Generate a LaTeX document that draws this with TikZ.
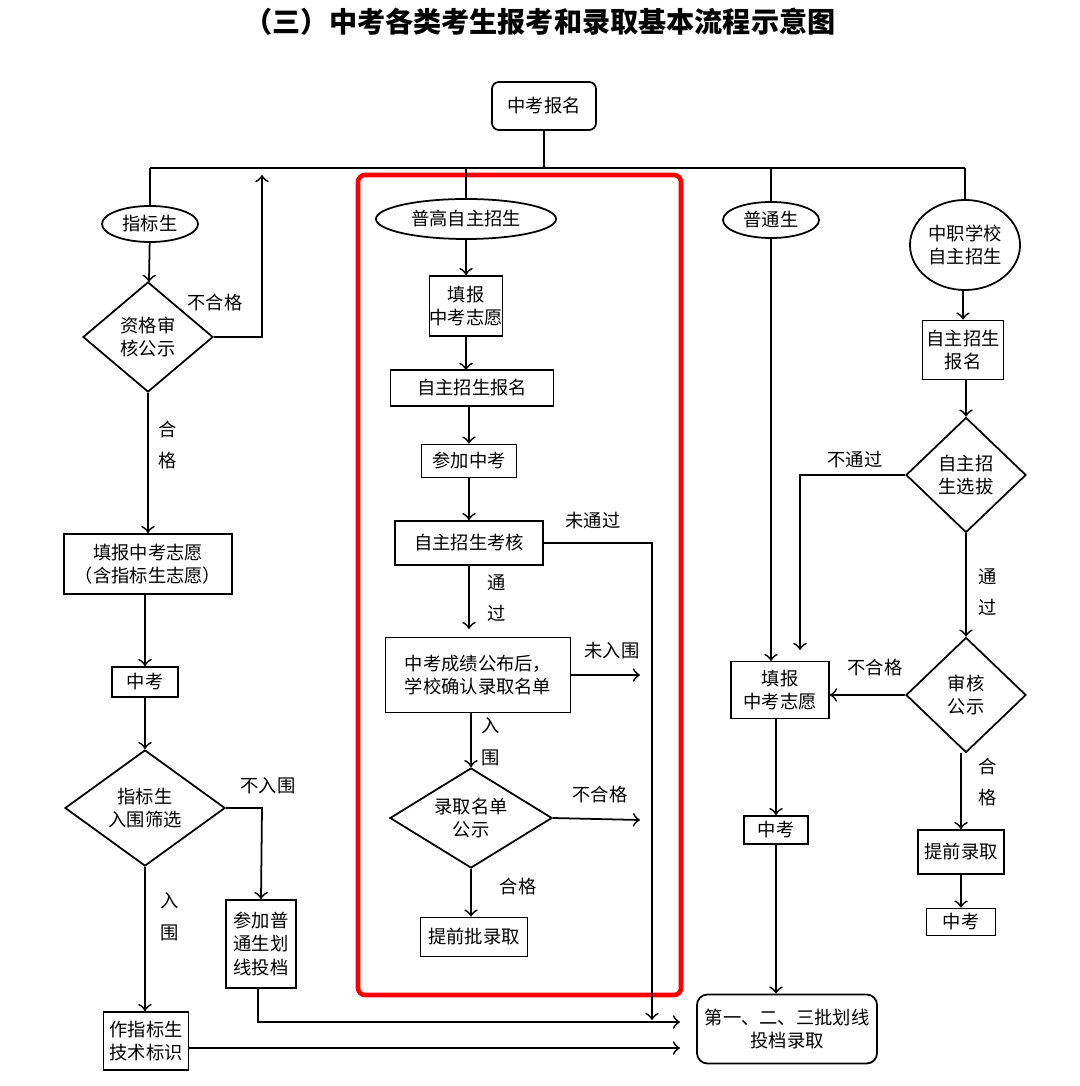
\documentclass[tikz,border=0pt]{standalone}
\usepackage{fontspec}
\setmainfont{Noto Sans CJK SC}
\usepackage{tikz}
\usetikzlibrary{shapes.geometric}

\begin{document}
\begin{tikzpicture}[x=0.01cm,y=-0.01cm,font=\fontsize{5.2}{6.6}\selectfont,
  line width=0.5pt,
  box/.style={draw,align=center,inner sep=0pt,minimum width=#1},
  oval/.style={draw,ellipse,align=center,inner sep=0pt},
  dia/.style={draw,diamond,align=center,inner sep=0pt,aspect=1.3},
  lbl/.style={align=center,inner sep=0pt,font=\fontsize{5.2}{9}\selectfont}]
  \useasboundingbox (0,0) rectangle (1080,1086);

  % Title
  \node[font=\fontsize{8}{9}\bfseries\selectfont] (title) at (540,22) {（三）中考各类考生报考和录取基本流程示意图};

  % Top
  \node[box=1.04cm,minimum height=0.48cm,rounded corners=2pt] (reg) at (544,106) {中考报名};
  \coordinate (top) at (544,168);
  \draw (reg) -- (top);
  \draw (150,168) -- (965,168);

  % Red frame
  \draw[red,line width=1.3pt,rounded corners=2pt] (358,175) rectangle (681,995);

  % Final box
  \node[box=1.8cm,minimum height=0.69cm,rounded corners=3pt] (final) at (787,1029) {第一、二、三批划线\\投档录取};

  % Left column
  \node[oval,minimum width=0.96cm,minimum height=0.36cm] (zbs) at (150,224) {指标生};
  \draw (150,168) -- (zbs);
  \node[dia,minimum width=1.3cm,minimum height=1.1cm] (shgs) at (148,337) {资格审\\核公示};
  \draw[->] (zbs) -- (shgs);
  \coordinate (upl) at (262,337);
  \draw[->] (shgs.east) -- (upl) -- (262,175);
  \node[lbl] (l1) at (215,303) {不合格};
  \node[box=1.68cm,minimum height=0.6cm] (tbzy) at (148,564) {填报中考志愿\\（含指标生志愿）};
  \draw[->] (shgs) -- (tbzy);
  \node[lbl] (l2) at (168,445) {合\\格};
  \node[box=0.66cm,minimum height=0.3cm] (zk1) at (145,682) {中考};
  \draw[->] (tbzy.south -| zk1) -- (zk1);
  \node[dia,minimum width=1.6cm,minimum height=1.16cm] (rwsx) at (145,808) {指标生\\入围筛选};
  \draw[->] (zk1) -- (rwsx);
  \node[box=0.7cm,minimum height=0.88cm] (cjpt) at (261,944) {参加普\\通生划\\线投档};
  \coordinate (c1) at (262,808);
  \draw[->] (rwsx.east) -- (c1) -- (cjpt.north);
  \node[lbl] (l3) at (268,786) {不入围};
  \node[box=0.85cm,minimum height=0.58cm] (jsbs) at (146,1041) {作指标生\\技术标识};
  \draw[->] (rwsx.south) -- (rwsx.south |- jsbs.north);
  \node[lbl] (l4) at (170,917) {入\\围};
  \coordinate (c2) at (680,1048);
  \draw[->] (jsbs.east |- c2) -- (c2);
  \coordinate (c3) at (258,1022);
  \draw[->] (cjpt.south -| c3) -- (c3) -- (680,1022);

  % Middle column
  \node[oval,minimum width=1.8cm,minimum height=0.4cm] (pgzz) at (466,219) {普高自主招生};
  \draw (466,168) -- (pgzz);
  \node[box=0.69cm,minimum height=0.6cm] (tbm) at (466,306) {填报\\中考志愿};
  \draw[->] (pgzz) -- (tbm);
  \node[box=1.63cm,minimum height=0.36cm] (zzbm) at (472,388) {自主招生报名};
  \draw[->] (tbm) -- (466,370);
  \node[box=0.95cm,minimum height=0.33cm] (cjzk) at (469,461) {参加中考};
  \draw[->] (zzbm.south -| cjzk) -- (cjzk);
  \node[box=1.48cm,minimum height=0.44cm] (zzkh) at (469,543) {自主招生考核};
  \draw[->] (cjzk) -- (zzkh);
  \coordinate (c4) at (652,543);
  \draw[->] (zzkh.east) -- (c4) -- (652,1020);
  \node[lbl] (l5) at (593,521) {未通过};
  \node[box=1.85cm,minimum height=0.75cm] (qrmd) at (478,675) {中考成绩公布后，\\学校确认录取名单};
  \draw[->] (zzkh) -- (469,629);
  \node[lbl] (l6) at (497,598) {通\\过};
  \coordinate (c5) at (640,675);
  \draw[->] (qrmd.east) -- (c5);
  \node[lbl] (l7) at (612,651) {未入围};
  \node[dia,minimum width=1.62cm,minimum height=1.0cm] (mdgs) at (471,818) {录取名单\\公示};
  \draw[->] (471,712) -- (mdgs);
  \node[lbl] (l8) at (491,742) {入\\围};
  \coordinate (c6) at (640,820);
  \draw[->] (mdgs.east) -- (c6);
  \node[lbl] (l9) at (600,795) {不合格};
  \node[box=1.07cm,minimum height=0.39cm] (tqp) at (474,937) {提前批录取};
  \draw[->] (mdgs.south) -- (mdgs.south |- tqp.north);
  \node[lbl] (l10) at (518,887) {合格};

  % Ordinary students
  \node[oval,minimum width=0.96cm,minimum height=0.36cm] (pts) at (771,220) {普通生};
  \draw (771,168) -- (pts);
  \node[box=0.98cm,minimum height=0.57cm] (tbp) at (780,690) {填报\\中考志愿};
  \draw[->] (pts) -- (771,661);
  \node[box=0.64cm,minimum height=0.28cm] (zk2) at (776,830) {中考};
  \draw[->] (tbp.south -| zk2) -- (zk2);
  \draw[->] (zk2) -- (zk2 |- final.north);

  % Vocational schools
  \node[oval,minimum width=1.1cm,minimum height=0.9cm] (zzxx) at (965,245) {中职学校\\自主招生};
  \draw (965,168) -- (zzxx);
  \node[box=0.81cm,minimum height=0.59cm] (zzbm2) at (963,350) {自主招生\\报名};
  \draw[->] (zzxx.south -| zzbm2) -- (zzbm2);
  \node[dia,minimum width=1.2cm,minimum height=1.15cm] (zzxb) at (966,475) {自主招\\生选拔};
  \draw[->] (zzbm2.south -| zzxb) -- (zzxb);
  \coordinate (c7) at (800,475);
  \draw[->] (zzxb.west) -- (c7) -- (800,650);
  \node[lbl] (l11) at (855,460) {不通过};
  \node[dia,minimum width=1.2cm,minimum height=1.15cm] (shgs2) at (966,695) {审核\\公示};
  \draw[->] (zzxb) -- (shgs2);
  \node[lbl] (l12) at (988,592) {通\\过};
  \draw[->] (shgs2.west) -- (tbp.east |- shgs2.west);
  \node[lbl] (l13) at (875,668) {不合格};
  \node[box=0.86cm,minimum height=0.44cm] (tqlq) at (961,852) {提前录取};
  \draw[->] (shgs2.south -| tqlq) -- (tqlq);
  \node[lbl] (l14) at (988,782) {合\\格};
  \node[box=0.69cm,minimum height=0.27cm] (zk3) at (961,922) {中考};
  \draw[->] (tqlq) -- (zk3);
\end{tikzpicture}
\end{document}
